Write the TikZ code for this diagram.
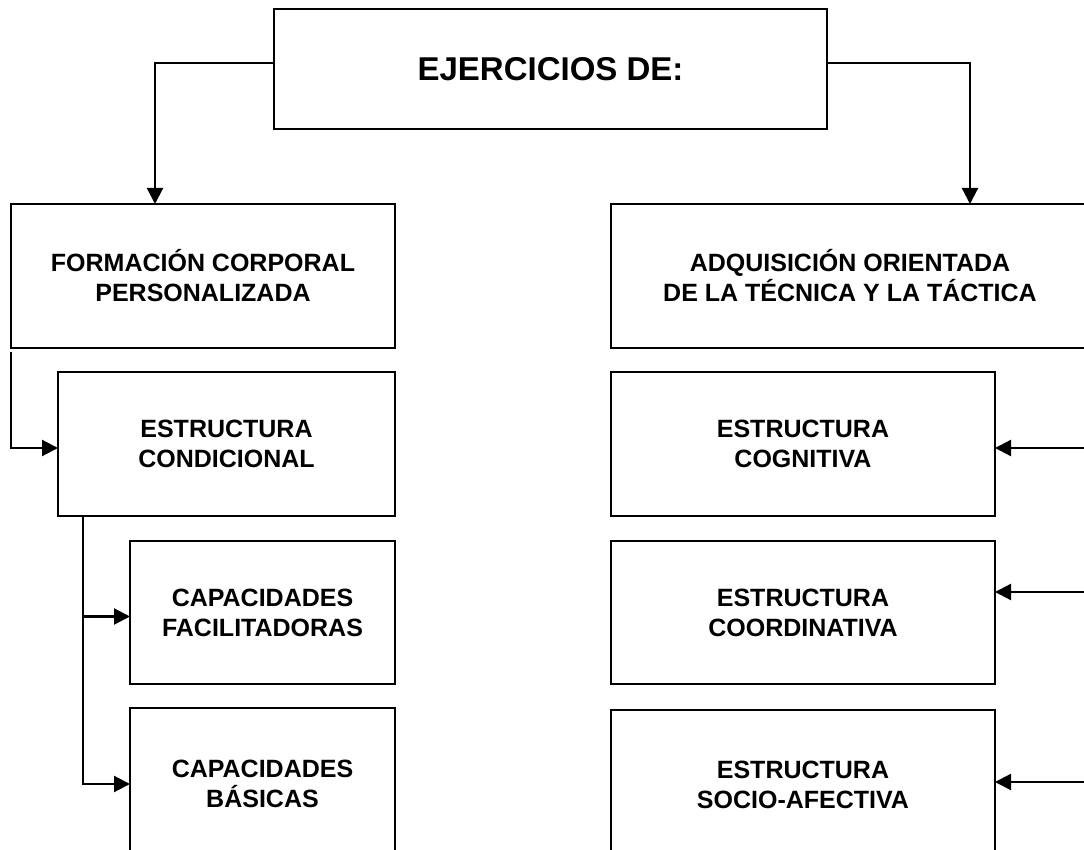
\documentclass[tikz,border=0pt]{standalone}
\usepackage{fontspec}
\setmainfont{Liberation Sans}
\usepackage{tikz}
\usetikzlibrary{positioning, arrows.meta}

\tikzset{
  caja/.style={rectangle, draw, line width=1.1pt, inner sep=0pt, outer sep=0pt, align=center, font=\bfseries\fontsize{12.5}{15}\selectfont},
  flecha/.style={line width=1.1pt, -{Triangle[length=8pt, width=8pt]}}
}

\begin{document}
\begin{tikzpicture}[x=0.5pt, y=-0.5pt]

\useasboundingbox (0,0) rectangle (1084,850);
\clip (0,0) rectangle (1084,850);

\node[caja, minimum width=276.5pt, minimum height=60pt, anchor=north west, font=\bfseries\fontsize{16.5}{19}\selectfont] (ejercicios) at (274,9) {EJERCICIOS DE:};

\node[caja, minimum width=192pt, minimum height=72pt, anchor=north west] (formacion) at (11,204) {FORMACIÓN CORPORAL\\PERSONALIZADA};

\node[caja, minimum width=239pt, minimum height=72pt, anchor=north west] (adquisicion) at (611,204) {ADQUISICIÓN ORIENTADA\\DE LA TÉCNICA Y LA TÁCTICA};

\node[caja, minimum width=168.5pt, minimum height=72pt, below=12pt of formacion.south east, anchor=north east] (condicional) {ESTRUCTURA\\CONDICIONAL};

\node[caja, minimum width=132.5pt, minimum height=71.5pt, below=12.5pt of condicional.south east, anchor=north east] (facilitadoras) {CAPACIDADES\\FACILITADORAS};

\node[caja, minimum width=132.5pt, minimum height=76pt, below=12pt of facilitadoras.south east, anchor=north east] (basicas) {CAPACIDADES\\BÁSICAS};

\node[caja, minimum width=192pt, minimum height=72pt, below=12pt of adquisicion.south west, anchor=north west] (cognitiva) {ESTRUCTURA\\COGNITIVA};

\node[caja, minimum width=192pt, minimum height=71.5pt, below=12.5pt of cognitiva.south west, anchor=north west] (coordinativa) {ESTRUCTURA\\COORDINATIVA};

\node[caja, minimum width=192pt, minimum height=75pt, below=13pt of coordinativa.south west, anchor=north west] (socioafectiva) {ESTRUCTURA\\SOCIO-AFECTIVA};

\draw[flecha] ([yshift=3pt]ejercicios.west) -| ([xshift=72pt]formacion.north west);

\draw[flecha] ([yshift=3pt]ejercicios.east) -| ([xshift=179.5pt]adquisicion.north west);

\draw[flecha, shorten <=2pt] (formacion.south west) |- ([yshift=-2pt]condicional.west);

\draw[flecha, shorten <=2pt] ([xshift=12.5pt]condicional.south west) |- ([yshift=-2pt]facilitadoras.west);

\draw[flecha] ([xshift=12.5pt]condicional.south west) |- (basicas.west);

\coordinate (c1) at (1090,448);
\coordinate (c2) at (1090,592);
\coordinate (c3) at (1090,782);

\draw[flecha] (c1) -- (cognitiva.east |- c1);

\draw[flecha] (c2) -- (coordinativa.east |- c2);

\draw[flecha] (c3) -- (socioafectiva.east |- c3);

\end{tikzpicture}
\end{document}
